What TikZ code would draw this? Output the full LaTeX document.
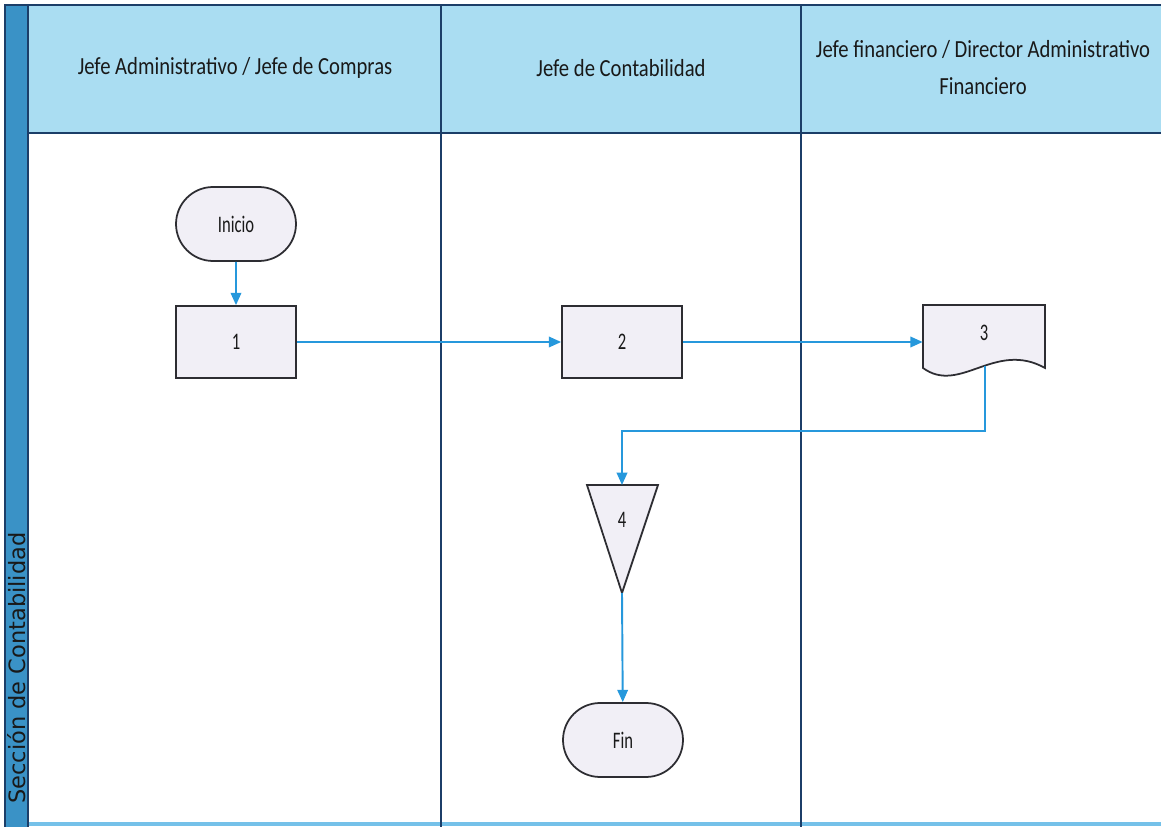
\documentclass[tikz,border=0pt]{standalone}
\usepackage{fontspec}
\setmainfont{Carlito}
\newfontfamily\headfont{Carlito}[FakeStretch=0.84]
\newfontfamily\stepfont{Carlito}[FakeStretch=0.7]
\newfontfamily\sidefont{DejaVu Sans}
\usetikzlibrary{shapes.misc,arrows.meta}
\definecolor{lanedark}{RGB}{28,62,104}
\definecolor{stripblue}{RGB}{58,146,198}
\definecolor{headblue}{RGB}{170,221,242}
\definecolor{flowblue}{RGB}{38,152,220}
\definecolor{shapefill}{RGB}{241,239,246}
\definecolor{shapeline}{RGB}{45,45,50}
\begin{document}
\begin{tikzpicture}[x=0.02cm,y=-0.02cm,
                every node/.style={text=black!90,font=\stepfont\fontsize{13.5}{15}\selectfont},
                proc/.style={draw=shapeline,fill=shapefill,line width=1pt,
                             minimum width=2.4cm,minimum height=1.44cm,inner sep=0pt},
                term/.style={proc,rounded rectangle,minimum height=1.48cm},
                lanehead/.style={font=\headfont\fontsize{14}{21}\selectfont,align=center},
                flow/.style={draw=flowblue,line width=1.1pt,-{Triangle[length=7pt,width=6pt]}},
                laneline/.style={draw=lanedark,line width=0.8pt}]
    \useasboundingbox (0,0) rectangle (1161,827);
    % lanes
    \fill[headblue] (28,5) rectangle (1161,133);
    \fill[stripblue] (5,5) rectangle (28,827);
    \draw[headblue!60!flowblue,line width=2pt] (28,824) -- (1161,824);
    \draw[laneline] (5,827) -- (5,5) -- (1161,5);
    \draw[laneline] (28,5) -- (28,827);
    \draw[laneline] (28,133) -- (1161,133);
    \draw[laneline] (441,5) -- (441,827);
    \draw[laneline] (801,5) -- (801,827);
    \node[rotate=90,anchor=west,font=\sidefont\fontsize{12.8}{14}\selectfont] (side) at (17,810) {Sección de Contabilidad};
    \node[lanehead] (h1) at (235,68) {Jefe Administrativo / Jefe de Compras};
    \node[lanehead] (h2) at (621,68) {Jefe de Contabilidad};
    \node[lanehead] (h3) at (983,68) {Jefe financiero / Director Administrativo\\Financiero};
    % steps
    \node[term] (ini) at (236,224) {Inicio};
    \node[proc] (p1) at (236,342) {1};
    \node[proc] (p2) at (622,342) {2};
    \node[minimum width=2.44cm,minimum height=1.26cm,inner sep=0pt] (d3) at (984,342) {};
    \filldraw[draw=shapeline,fill=shapefill,line width=1pt]
        (923,305) -- (1045,305) -- (1045,368)
        .. controls (995,340) and (960,395) .. (923,368) -- cycle;
    \node (d3txt) at (984,333) {3};
    \coordinate (d3out) at (985,366);
    \coordinate (bend) at (622,431);
    \coordinate (t4top) at (622,485);
    \coordinate (t4apex) at (622,593);
    \filldraw[draw=shapeline,fill=shapefill,line width=1pt] (587,485) -- (658,485) -- (t4apex) -- cycle;
    \node (t4) at (622,520) {4};
    \node[term] (fin) at (623,740) {Fin};
    % flow
    \draw[flow] (ini) -- (p1);
    \draw[flow] (p1) -- (p2);
    \draw[flow] (p2) -- (d3);
    \draw[flow] (d3out) |- (bend) -- (t4top);
    \draw[flow] (t4apex) -- (fin);
\end{tikzpicture}
\end{document}
